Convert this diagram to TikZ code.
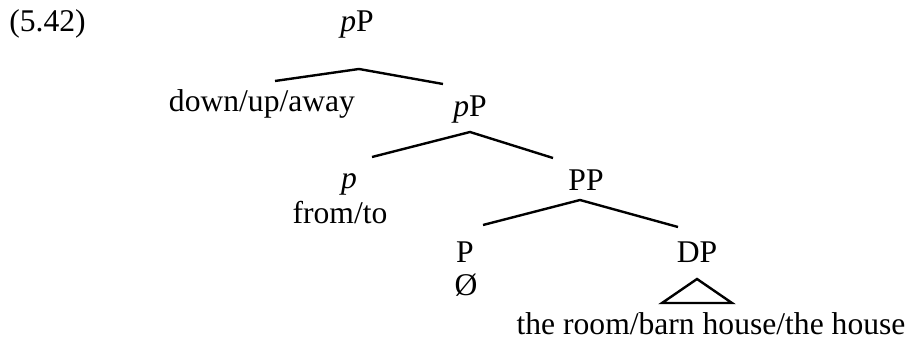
\documentclass[tikz,border=0pt]{standalone}
\usepackage{fontspec}
\setmainfont{Liberation Serif}
\usetikzlibrary{positioning}
\begin{document}
\begin{tikzpicture}[
    x=0.5pt, y=-0.5pt,
    every node/.style={font=\fontsize{15.8}{19}\selectfont, inner sep=0pt, anchor=base},
    branch/.style={line width=1.2pt, line join=miter}
    ]
    \useasboundingbox (0,0) rectangle (908,341);
    % Example number
    \node[anchor=base west] (exnum) at (9,32) {(5.42)};
    % Top pP
    \node (pP1) at (357,32) {\textit{p}P};
    \coordinate (pP1top) at (359,69);
    \coordinate (pP1l) at (275,81);
    \coordinate (pP1r) at (443,84);
    \draw[branch] (pP1l) -- (pP1top) -- (pP1r);
    \node (spec) at (262,112) {down/up/away};
    % Lower pP
    \node (pP2) at (470,117) {\textit{p}P};
    \coordinate (pP2top) at (470,132);
    \coordinate (pP2l) at (372,157);
    \coordinate (pP2r) at (553,158);
    \draw[branch] (pP2l) -- (pP2top) -- (pP2r);
    \node (phead) at (349,189) {\textit{p}};
    \node (pword) at (340,224) {from/to};
    % PP
    \node (PP) at (586,191) {PP};
    \coordinate (PPtop) at (580,200);
    \coordinate (PPl) at (483,225);
    \coordinate (PPr) at (678,227);
    \draw[branch] (PPl) -- (PPtop) -- (PPr);
    \node (Phead) at (465,263) {P};
    \node (Pword) at (466,295) {Ø};
    % DP
    \node (DP) at (697,263) {DP};
    \coordinate (DPtop) at (697,279);
    \coordinate (DPl) at (662,303);
    \coordinate (DPr) at (732,303);
    \draw[branch] (DPl) -- (DPtop) -- (DPr) -- cycle;
    \node (DPword) at (711,334) {the room/barn house/the house};
\end{tikzpicture}
\end{document}
